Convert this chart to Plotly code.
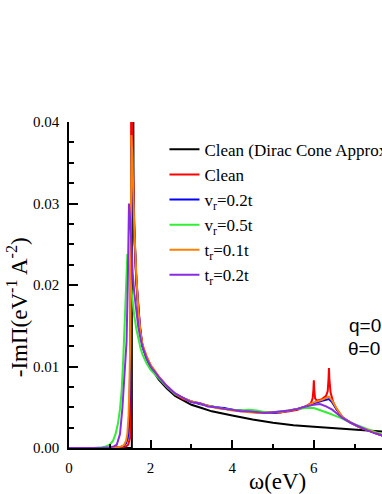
import plotly.graph_objects as go

# ---------------- data ----------------
mid_omega = [2.0, 2.2, 2.4, 2.6, 2.8, 3.0, 3.2, 3.4, 3.6, 3.8, 4.0, 4.2, 4.4, 4.6, 4.8, 5.0, 5.2, 5.4, 5.6, 5.8]

omega_black = [0, 1.54, 1.541, 1.56, 1.58, 1.6, 1.65, 1.7, 1.8, 1.9, 2.0, 2.2, 2.4, 2.6, 2.8,
               3.0, 3.25, 3.5, 4.0, 4.5, 5.0, 5.5, 6.0, 6.5, 7.0, 7.5, 8.0]
val_black = [0, 0, 0.12, 0.045, 0.033, 0.027, 0.0205, 0.0165, 0.0125, 0.0110, 0.0099, 0.0084, 0.0073, 0.0064, 0.0058,
             0.0053, 0.0049, 0.0045, 0.0040, 0.0035, 0.0031, 0.0028, 0.0026, 0.0024, 0.0022, 0.0020, 0.0019]

omega_red = [0, 1.0, 1.3, 1.4, 1.45, 1.48, 1.5, 1.51, 1.52, 1.53, 1.55, 1.58, 1.6, 1.65, 1.7, 1.75, 1.8, 1.9] + mid_omega + \
            [5.93, 5.97, 5.99, 6.0, 6.01, 6.03, 6.07, 6.2, 6.3, 6.34, 6.36, 6.37, 6.38, 6.41, 6.47, 6.55, 6.7,
             6.9, 7.1, 7.3, 7.5, 7.7, 8.0]
val_red = [0, 0, 0.0001, 0.0002, 0.0004, 0.0008, 0.0013, 0.005, 0.02, 0.06, 0.040, 0.030, 0.026, 0.0205, 0.0166, 0.0141, 0.0126, 0.0112,
           0.0101, 0.0087, 0.0076, 0.0066, 0.0060, 0.0057, 0.0055, 0.0052, 0.0050, 0.0048, 0.0047, 0.0046, 0.0045, 0.0044,
           0.0044, 0.0043, 0.0044, 0.0045, 0.0047, 0.0051,
           0.0055, 0.0061, 0.0072, 0.0083, 0.0072, 0.0061, 0.0058, 0.0060, 0.0064, 0.0070, 0.0085, 0.0098, 0.0085,
           0.0068, 0.0057, 0.0048, 0.0037, 0.0031, 0.0026, 0.0022, 0.0018, 0.0015, 0.0012]

omega_blue = [0, 1.0, 1.25, 1.35, 1.4, 1.44, 1.47, 1.49, 1.5, 1.51, 1.52, 1.53, 1.55, 1.58, 1.6, 1.65, 1.7, 1.75, 1.8, 1.9] + mid_omega + \
             [6.0, 6.2, 6.3, 6.37, 6.45, 6.55, 6.7, 6.9, 7.1, 7.3, 7.5, 7.7, 8.0]
val_blue = [0, 0, 0.0001, 0.0003, 0.0006, 0.0012, 0.003, 0.006, 0.010, 0.018, 0.030, 0.037, 0.035, 0.0295, 0.0265, 0.0208, 0.0167, 0.0141, 0.0125, 0.0111,
            0.0101, 0.0087, 0.0075, 0.0066, 0.0061, 0.0057, 0.0054, 0.0052, 0.0050, 0.0049, 0.0047, 0.0046, 0.0045, 0.0044,
            0.0043, 0.0043, 0.0044, 0.0046, 0.0048, 0.0051,
            0.0055, 0.0058, 0.0059, 0.0060, 0.0056, 0.0048, 0.0038, 0.0031, 0.0026, 0.0022, 0.0018, 0.0015, 0.0012]

omega_green = [0, 0.6, 0.8, 0.9, 1.0, 1.08, 1.14, 1.2, 1.25, 1.29, 1.33, 1.37, 1.4, 1.43, 1.46, 1.5, 1.55, 1.6, 1.65,
               1.7, 1.75, 1.8, 1.9] + mid_omega + \
              [6.0, 6.2, 6.35, 6.5, 6.7, 6.9, 7.1, 7.3, 7.5, 7.7, 8.0]
val_green = [0, 0, 0.0001, 0.0002, 0.0004, 0.0009, 0.0017, 0.003, 0.0048, 0.007, 0.011, 0.016, 0.021, 0.0238, 0.0225,
             0.0205, 0.0182, 0.0162, 0.0146, 0.0133, 0.0123, 0.0115, 0.0104,
             0.0096, 0.0085, 0.0075, 0.0066, 0.0061, 0.0057, 0.0055, 0.0052, 0.0050, 0.0048, 0.0047, 0.0046, 0.0047, 0.0046,
             0.0044, 0.0044, 0.0045, 0.0046, 0.0048, 0.0049,
             0.0049, 0.0046, 0.0043, 0.0040, 0.0036, 0.0031, 0.0027, 0.0023, 0.0019, 0.0016, 0.0013]

omega_orange = [0, 1.0, 1.2, 1.3, 1.35, 1.4, 1.43, 1.46, 1.48, 1.5, 1.51, 1.52, 1.53, 1.55, 1.58, 1.6, 1.65, 1.7, 1.75,
                1.8, 1.9] + mid_omega + \
               [6.0, 6.2, 6.3, 6.37, 6.45, 6.55, 6.7, 6.9, 7.1, 7.3, 7.5, 7.7, 8.0]
val_orange = [0, 0, 0.0001, 0.0002, 0.0004, 0.0009, 0.0018, 0.004, 0.0075, 0.013, 0.022, 0.034, 0.0384, 0.036, 0.030,
              0.027, 0.0212, 0.0169, 0.0143, 0.0127, 0.0113,
              0.0102, 0.0088, 0.0076, 0.0067, 0.0061, 0.0057, 0.0055, 0.0052, 0.0049, 0.0048, 0.0046, 0.0045, 0.0044, 0.0043,
              0.0043, 0.0044, 0.0044, 0.0046, 0.0048, 0.0051,
              0.0056, 0.0059, 0.0061, 0.0063, 0.0058, 0.0049, 0.0038, 0.0031, 0.0026, 0.0022, 0.0018, 0.0015, 0.0012]

omega_purple = [0, 0.8, 1.0, 1.1, 1.17, 1.25, 1.31, 1.37, 1.41, 1.44, 1.47, 1.5, 1.53, 1.56, 1.6, 1.65, 1.7, 1.75,
                1.8, 1.9] + mid_omega + \
               [6.0, 6.15, 6.3, 6.45, 6.55, 6.7, 6.9, 7.1, 7.3, 7.5, 7.7, 8.0]
val_purple = [0, 0, 0.0001, 0.0002, 0.0004, 0.0017, 0.005, 0.0092, 0.013, 0.020, 0.030, 0.028, 0.0245, 0.0215, 0.019,
              0.0165, 0.0148, 0.0135, 0.0124, 0.0110,
              0.0100, 0.0087, 0.0076, 0.0067, 0.0061, 0.0056, 0.0055, 0.0051, 0.0050, 0.0048, 0.0047, 0.0045, 0.0045, 0.0044,
              0.0043, 0.0044, 0.0045, 0.0046, 0.0048, 0.0051,
              0.0053, 0.0054, 0.0051, 0.0047, 0.0043, 0.0037, 0.0031, 0.0026, 0.0022, 0.0018, 0.0015, 0.0012]

series_names = ["Clean (Dirac Cone Approx.)", "Clean", "v<sub>r</sub>=0.2t", "v<sub>r</sub>=0.5t",
                "t<sub>r</sub>=0.1t", "t<sub>r</sub>=0.2t"]
series_colors = ["#000000", "#ff0000", "#0000ff", "#33ee33", "#ff8000", "#8a2be2"]

x_range = [0, 7.67]
y_range = [0, 0.04]

# ---------------- figure ----------------
serif = "Liberation Serif, serif"
sans = "Liberation Sans, sans-serif"

fig = go.Figure()
all_x = [omega_black, omega_red, omega_blue, omega_green, omega_orange, omega_purple]
all_y = [val_black, val_red, val_blue, val_green, val_orange, val_purple]
for xs, ys, name, col in zip(all_x, all_y, series_names, series_colors):
    fig.add_trace(go.Scatter(x=xs, y=ys, mode="lines", name=name,
                             line=dict(color=col, width=2)))

axis_common = dict(showline=True, linecolor="black", linewidth=1.5, showgrid=False, zeroline=False,
                   ticks="inside", tickcolor="black", tickwidth=1.5)

fig.update_layout(
    width=382, height=494,
    margin=dict(l=69, r=0, t=122, b=46, autoexpand=False),
    plot_bgcolor="white", paper_bgcolor="white",
    font=dict(family=serif, color="black"),
    xaxis=dict(range=x_range, tick0=0, dtick=2, ticklen=8,
               minor=dict(dtick=1, ticks="inside", ticklen=4, tickwidth=1.5, tickcolor="black"),
               tickfont=dict(family=serif, size=15, color="black"), ticklabelstandoff=5,
               **axis_common),
    xaxis2=dict(range=x_range, overlaying="x", side="top", anchor="y", tick0=0, dtick=1.5, ticklen=8,
                minor=dict(dtick=0.75, ticks="inside", ticklen=4, tickwidth=1.5, tickcolor="black"),
                showticklabels=False, **axis_common),
    yaxis=dict(range=y_range, tick0=0, dtick=0.01, tickformat=".2f", ticklen=9,
               minor=dict(dtick=0.0025, ticks="inside", ticklen=5, tickwidth=1.5, tickcolor="black"),
               tickfont=dict(family=serif, size=15, color="black"), ticklabelstandoff=5,
               **axis_common),
    legend=dict(x=0.305, y=0.97, xanchor="left", yanchor="top", bgcolor="rgba(0,0,0,0)",
                font=dict(family=serif, size=17, color="black"), tracegroupgap=0, itemwidth=30),
    annotations=[
        dict(text="-ImΠ(eV<sup>-1</sup> A<sup>-2</sup>)", textangle=-90, xref="paper", yref="paper",
             x=-0.166, y=0.432, xanchor="center", yanchor="middle", showarrow=False,
             font=dict(family=serif, size=23, color="black")),
        dict(text="ω(eV)", xref="paper", yref="paper", x=0.665, y=-0.104, xanchor="center",
             yanchor="middle", showarrow=False, font=dict(family=serif, size=23, color="black")),
        dict(text="q=0", xref="paper", yref="paper", x=0.888, y=0.377, xanchor="left", yanchor="middle",
             showarrow=False, font=dict(family=sans, size=19, color="black")),
        dict(text="θ=0", xref="paper", yref="paper", x=0.886, y=0.304, xanchor="left", yanchor="middle",
             showarrow=False, font=dict(family=sans, size=19, color="black")),
    ],
)

fig.write_html("out.html", config={"displayModeBar": False})

# remove the browser's default page margin so the figure starts at the window's corner
with open("out.html", "r", encoding="utf-8") as fh:
    html = fh.read()
html = html.replace("<body>", '<body style="margin:0;padding:0;">', 1)
html = html.replace("<head>", '<head><style>html,body{margin:0;padding:0;}</style>', 1)
with open("out.html", "w", encoding="utf-8") as fh:
    fh.write(html)
